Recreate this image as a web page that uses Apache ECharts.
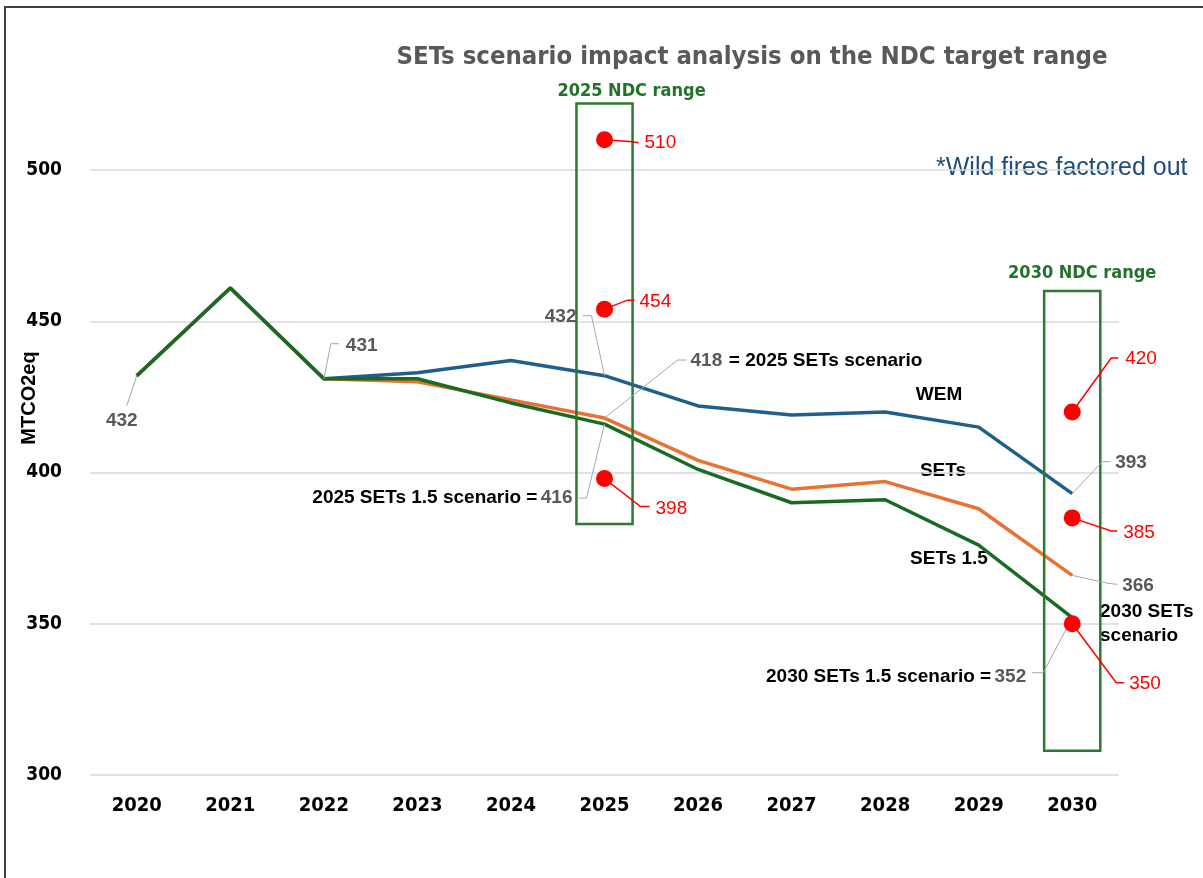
<!DOCTYPE html>
<html>
<head>
<meta charset="utf-8">
<script src="https://cdn.jsdelivr.net/npm/echarts@6/dist/echarts.min.js"></script>
<style>
  html, body { margin: 0; padding: 0; background: #fff; }
  #chart { width: 1203px; height: 878px; }
</style>
</head>
<body>
<div id="chart"></div>
<script>
// emissions, MtCO2eq
const years = ['2020', '2021', '2022', '2023', '2024', '2025', '2026', '2027', '2028', '2029', '2030'];
const wem = [432, 461, 431, 433, 437, 432, 422, 419, 420, 415, 393];
const sets = [432, 461, 431, 430, 424, 418, 404, 394.5, 397, 388, 366];
const sets15 = [432, 461, 431, 431, 423, 416, 401, 390, 391, 376, 352];

// NDC target points and ranges
const ndc2025 = [510, 454, 398];
const ndc2030 = [420, 385, 350];
const ndcRangeYears = ['2025', '2030'];
const ndcRangeLow = [383, 308];
const ndcRangeHigh = [522, 460];

const NUM = '"Liberation Sans", Arial, sans-serif';
const NARROW = '"Liberation Sans Narrow", "DejaVu Sans Condensed", "Liberation Sans", sans-serif';
const idx = y => years.indexOf(y);

// callouts: value they point at, leader bends and text spot (px, relative to the point)
const callouts = [
  { year: '2020', v: sets15[0], path: [[-10, 30]], at: [-15, 45], align: 'center' },
  { year: '2022', v: sets15[2], path: [[7, -35], [15, -35]], at: [22, -33], align: 'left' },
  { year: '2025', v: wem[5], path: [[-13, -60], [-22, -60]], at: [-28, -59], align: 'right' },
  { year: '2025', v: sets[5], path: [[73, -58], [82, -58]], at: [86, -57], align: 'left', after: '= 2025 SETs scenario' },
  { year: '2025', v: sets15[5], path: [[-18, 74], [-26, 74]], at: [-32, 74], align: 'right', before: '2025 SETs 1.5 scenario =' },
  { year: '2030', v: wem[10], path: [[30, -32], [38, -32]], at: [43, -31], align: 'left' },
  { year: '2030', v: sets[10], path: [[36, 8], [45, 9]], at: [50, 10], align: 'left' },
  { year: '2030', v: sets15[10], path: [[-29, 55], [-40, 55]], at: [-46, 59], align: 'right', before: '2030 SETs 1.5 scenario =' },
  { year: '2025', v: ndc2025[0], path: [[28, 2], [34, 3]], at: [40, 3], align: 'left', red: true },
  { year: '2025', v: ndc2025[1], path: [[23, -9], [30, -9]], at: [35, -7], align: 'left', red: true },
  { year: '2025', v: ndc2025[2], path: [[36, 28], [45, 28]], at: [51, 30], align: 'left', red: true },
  { year: '2030', v: ndc2030[0], path: [[39, -54], [46, -54]], at: [53, -53], align: 'left', red: true },
  { year: '2030', v: ndc2030[1], path: [[39, 13], [45, 13]], at: [51, 15], align: 'left', red: true },
  { year: '2030', v: ndc2030[2], path: [[44, 59], [52, 59]], at: [57, 60], align: 'left', red: true }
];

// where the "NDC range" titles sit relative to the box top
const ndcTitleShift = [[27, -12], [10, -18]];

const rich = {
  g: { fill: '#595959', fontSize: 19, fontWeight: 'bold', fontFamily: NUM },
  r: { fill: '#ff0000', fontSize: 19, fontFamily: NUM },
  b: { fill: '#000', fontSize: 19, fontWeight: 'bold', fontFamily: NUM }
};

function renderCallout(params, api) {
  const c = callouts[params.dataIndex];
  const p = api.coord([api.value(0), api.value(1)]);
  const pts = [p].concat(c.path.map(d => [p[0] + d[0], p[1] + d[1]]));
  let text = c.red ? '{r|' + c.v + '}' : '{g|' + c.v + '}';
  if (c.before) text = '{b|' + c.before + '} ' + text;
  if (c.after) text = text + '  {b|' + c.after + '}';
  return {
    type: 'group',
    children: [
      { type: 'polyline', shape: { points: pts },
        style: { stroke: c.red ? '#ff0000' : '#a6a6a6', lineWidth: c.red ? 1.5 : 1, fill: null } },
      { type: 'text', x: p[0] + c.at[0], y: p[1] + c.at[1],
        style: { text: text, rich: rich, align: c.align, verticalAlign: 'middle' } }
    ]
  };
}

function renderBox(params, api) {
  const x = api.value(0);
  const top = api.coord([x, api.value(2)]);
  const bot = api.coord([x, api.value(1)]);
  const band = api.coord([1, 400])[0] - api.coord([0, 400])[0];
  const w = band * 0.6;
  const sh = ndcTitleShift[params.dataIndex];
  return {
    type: 'group',
    children: [
      { type: 'rect', shape: { x: top[0] - w / 2, y: top[1], width: w, height: bot[1] - top[1] },
        style: { fill: null, stroke: '#2b7a30', lineWidth: 2.5 } },
      { type: 'text', x: top[0] + sh[0], y: top[1] + sh[1],
        style: { text: ndcRangeYears[params.dataIndex] + ' NDC range', fill: '#22722a',
                 font: 'bold 18px ' + NARROW, align: 'center', verticalAlign: 'middle' } }
    ]
  };
}

const chart = echarts.init(document.getElementById('chart'));
chart.setOption({
  animation: false,
  grid: { left: 90, right: 84, top: 170, bottom: 103 },
  xAxis: {
    type: 'category',
    data: years,
    boundaryGap: true,
    axisLine: { show: false },
    axisTick: { show: false },
    axisLabel: { color: '#000', fontSize: 20, fontWeight: 'bold', fontFamily: NARROW, margin: 21 }
  },
  yAxis: {
    type: 'value',
    min: 300,
    max: 500,
    interval: 50,
    axisLine: { show: false },
    axisTick: { show: false },
    axisLabel: { color: '#000', fontSize: 19, fontWeight: 'bold', fontFamily: NARROW, margin: 28 },
    splitLine: { lineStyle: { color: '#d9d9d9', width: 1.5 } }
  },
  graphic: [
    { type: 'rect', shape: { x: 5, y: 7, width: 1400, height: 1000 },
      style: { fill: null, stroke: '#404040', lineWidth: 2 }, silent: true },
    { type: 'text', x: 752, y: 57,
      style: { text: 'SETs scenario impact analysis on the NDC target range', fill: '#595959',
               font: 'bold 25.5px ' + NARROW, align: 'center', verticalAlign: 'middle' } },
    { type: 'text', x: 936, y: 168,
      style: { text: '*Wild fires factored out', fill: '#1f4e79', font: '25px ' + NUM,
               align: 'left', verticalAlign: 'middle' } },
    { type: 'text', x: 29, y: 398, rotation: Math.PI / 2,
      style: { text: 'MTCO2eq', fill: '#000', font: 'bold 20px ' + NUM, align: 'center', verticalAlign: 'middle' } },
    { type: 'text', x: 939, y: 395,
      style: { text: 'WEM', fill: '#000', font: 'bold 19px ' + NUM, align: 'center', verticalAlign: 'middle' } },
    { type: 'text', x: 943, y: 471,
      style: { text: 'SETs', fill: '#000', font: 'bold 19px ' + NUM, align: 'center', verticalAlign: 'middle' } },
    { type: 'text', x: 949, y: 559,
      style: { text: 'SETs 1.5', fill: '#000', font: 'bold 19px ' + NUM, align: 'center', verticalAlign: 'middle' } },
    { type: 'text', x: 1100, y: 624,
      style: { text: '2030 SETs\nscenario', fill: '#000', font: 'bold 19px ' + NUM, lineHeight: 24,
               align: 'left', verticalAlign: 'middle' } }
  ],
  series: [
    { name: 'WEM', type: 'line', data: wem, symbol: 'none', z: 2,
      lineStyle: { color: '#1f5f8b', width: 3.5 }, itemStyle: { color: '#1f5f8b' } },
    { name: 'SETs', type: 'line', data: sets, symbol: 'none', z: 2,
      lineStyle: { color: '#e97132', width: 3.5 }, itemStyle: { color: '#e97132' } },
    { name: 'SETs 1.5', type: 'line', data: sets15, symbol: 'none', z: 2,
      lineStyle: { color: '#196b24', width: 3.5 }, itemStyle: { color: '#196b24' } },
    { name: 'NDC range', type: 'custom', renderItem: renderBox, z: 3,
      data: ndcRangeYears.map((y, k) => [idx(y), ndcRangeLow[k], ndcRangeHigh[k]]) },
    { name: 'callouts', type: 'custom', renderItem: renderCallout, z: 4,
      data: callouts.map(c => [idx(c.year), c.v]) },
    { name: 'NDC targets', type: 'scatter', symbolSize: 17, clip: false, z: 5,
      itemStyle: { color: '#ff0000', opacity: 1 },
      data: ndc2025.map(v => [idx('2025'), v]).concat(ndc2030.map(v => [idx('2030'), v])) }
  ]
});
</script>
</body>
</html>
